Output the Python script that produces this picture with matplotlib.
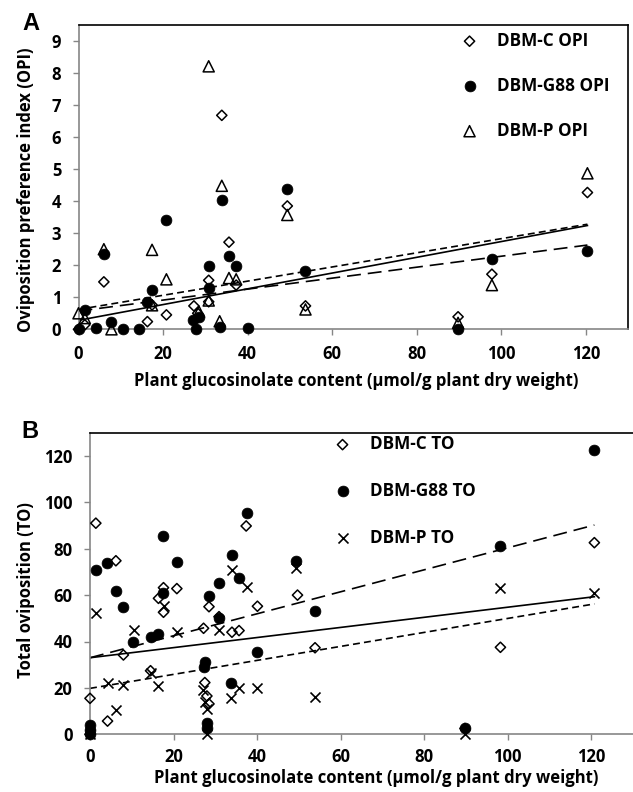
import matplotlib
matplotlib.use("Agg")
import matplotlib.pyplot as plt

# ---------------- data ----------------
# Panel A: oviposition preference index (OPI)
a_c_x = [0, 1.5, 6.0, 16.3, 17.4, 20.8, 27.3, 28.2, 30.8, 30.8, 33.9, 35.6, 37.3, 49.4, 53.7, 89.8, 97.8, 120.4]
a_c_y = [0, 0.14, 1.48, 0.24, 0.76, 0.45, 0.73, 0.5, 1.53, 0.86, 6.68, 2.72, 1.38, 3.85, 0.73, 0.39, 1.72, 4.27]

a_g_x = [0, 1.5, 4.2, 6.0, 7.7, 10.5, 14.4, 16.3, 17.5, 20.8, 27.1, 27.8, 28.5, 30.8, 30.8,
         33.4, 33.9, 35.6, 37.3, 40.1, 49.4, 53.7, 89.8, 97.8, 120.4]
a_g_y = [0, 0.60, 0.03, 2.34, 0.24, 0.02, 0.02, 0.86, 1.23, 3.42, 0.29, 0.0, 0.39, 1.99, 1.30,
         0.06, 4.04, 2.30, 1.99, 0.04, 4.38, 1.83, 0.02, 2.19, 2.46]

a_p_x = [0, 1.5, 6.0, 7.8, 17.4, 17.4, 20.8, 28.5, 30.8, 30.8, 33.4, 33.9, 35.6, 37.3, 49.4, 53.7, 89.8, 97.8, 120.4]
a_p_y = [0.5, 0.35, 2.5, 0.0, 2.48, 0.75, 1.56, 0.55, 8.21, 0.9, 0.25, 4.48, 1.6, 1.56, 3.57, 0.62, 0.2, 1.38, 4.87]

a_trend_x = [0, 120.4]
a_trend_c = [0.28, 3.24]
a_trend_g = [0.57, 2.63]
a_trend_p = [0.62, 3.28]

a_labels = ["DBM-C OPI", "DBM-G88 OPI", "DBM-P OPI"]

# Panel B: total oviposition (TO)
b_c_x = [0, 0, 1.4, 4.2, 6.2, 8.0, 14.5, 16.4, 17.6, 17.6, 20.8, 27.2, 27.5, 28.0, 28.5, 28.5,
         30.9, 34.0, 35.7, 37.4, 40.1, 49.7, 53.9, 89.8, 98.3, 120.8]
b_c_y = [0, 15.5, 91.0, 5.7, 74.8, 34.2, 27.4, 58.6, 63.2, 52.6, 62.8, 45.7, 22.3, 16.5, 13.1, 55.0,
         50.7, 44.0, 44.7, 89.8, 55.2, 60.0, 37.3, 2.5, 37.5, 82.6]

b_g_x = [0, 0, 0, 1.4, 4.0, 6.2, 7.8, 10.4, 14.5, 16.4, 17.6, 17.6, 20.8, 27.2, 27.6, 28.0, 28.0,
         28.5, 30.8, 30.9, 33.8, 34.0, 35.6, 37.6, 40.0, 49.4, 53.9, 89.9, 98.1, 120.8]
b_g_y = [0, 1.7, 3.9, 70.8, 74.0, 61.9, 54.7, 39.8, 41.8, 43.1, 85.5, 61.0, 74.3, 28.9, 31.3, 4.7, 2.6,
         59.8, 65.4, 50.3, 22.0, 77.3, 67.2, 95.3, 35.3, 74.6, 53.1, 2.6, 81.3, 122.5]

b_p_x = [0, 1.4, 4.2, 6.2, 8.0, 10.5, 14.5, 16.4, 17.7, 20.8, 27.0, 27.6, 28.0, 28.0, 30.9,
         33.8, 34.0, 35.8, 37.6, 40.1, 49.4, 53.9, 89.9, 98.3, 120.8]
b_p_y = [0, 52.2, 22.3, 10.3, 21.3, 45.0, 26.6, 21.0, 55.3, 44.0, 19.0, 14.1, 10.8, 0, 45.0,
         15.8, 70.8, 19.8, 63.4, 19.8, 71.5, 16.2, 0, 62.9, 60.8]

b_trend_x = [0, 120.8]
b_trend_c = [33.0, 59.3]
b_trend_g = [33.0, 90.2]
b_trend_p = [19.8, 56.2]

b_labels = ["DBM-C TO", "DBM-G88 TO", "DBM-P TO"]

a_yticks = [0, 1, 2, 3, 4, 5, 6, 7, 8, 9]
b_yticks = [0, 20, 40, 60, 80, 100, 120]
x_ticks = [0, 20, 40, 60, 80, 100, 120]

xlabel = "Plant glucosinolate content (\u00b5mol/g plant dry weight)"
a_ylabel = "Oviposition preference index (OPI)"
b_ylabel = "Total oviposition (TO)"

# ---------------- style ----------------
plt.rcParams["font.family"] = ["Open Sans", "DejaVu Sans"]
plt.rcParams["font.weight"] = "bold"
plt.rcParams["lines.scale_dashes"] = False

W, H = 633, 792
fig = plt.figure(figsize=(W / 100, H / 100), dpi=100)

GRAY = "#868686"
FS = 12
LFS = 12.3


def px_axes(l, r, t, b):
    return fig.add_axes([l / W, 1 - b / H, (r - l) / W, (b - t) / H])


def style_axes(ax, yticks, xpad, right_visible=True):
    for side in ("left", "bottom"):
        ax.spines[side].set_color(GRAY)
        ax.spines[side].set_linewidth(1.2)
    for side in ("top", "right"):
        ax.spines[side].set_color("black")
        ax.spines[side].set_linewidth(1.2)
    ax.spines["right"].set_visible(right_visible)
    ax.set_xticks(x_ticks)
    ax.set_yticks(yticks)
    ax.tick_params(axis="both", direction="out", length=4.5, width=1, color=GRAY,
                   labelsize=FS)
    ax.tick_params(axis="y", pad=8)
    ax.tick_params(axis="x", pad=xpad)
    for lab in ax.get_xticklabels() + ax.get_yticklabels():
        lab.set_fontweight("bold")


def draw(ax, cx, cy, gx, gy, px_, py_, pmarker, tx, tc, tg, tp):
    h1 = ax.scatter(cx, cy, marker="D", s=5.2 ** 2, facecolors="none", edgecolors="black",
                    linewidths=1.1, clip_on=False, zorder=3)
    h2 = ax.scatter(gx, gy, marker="o", s=7.8 ** 2, facecolors="black", edgecolors="black",
                    linewidths=0.5, clip_on=False, zorder=4)
    if pmarker == "^":
        h3 = ax.scatter(px_, py_, marker="^", s=8.0 ** 2, facecolors="none", edgecolors="black",
                        linewidths=1.1, clip_on=False, zorder=5)
    else:
        h3 = ax.scatter(px_, py_, marker="x", s=7.2 ** 2, color="black",
                        linewidths=1.2, clip_on=False, zorder=5)
    ax.plot(tx, tc, color="black", lw=1.2, zorder=2)
    l2, = ax.plot(tx, tg, color="black", lw=1.2, zorder=2)
    l2.set_dashes((10, 5))
    l3, = ax.plot(tx, tp, color="black", lw=1.2, zorder=2)
    l3.set_dashes((5, 3))
    return [h1, h2, h3]


# ---------------- Panel A ----------------
axA = px_axes(78.5, 628, 25, 329.3)
axA.set_xlim(0, 130)
axA.set_ylim(0, 9.5)
style_axes(axA, a_yticks, xpad=7)
hA = draw(axA, a_c_x, a_c_y, a_g_x, a_g_y, a_p_x, a_p_y, "^",
          a_trend_x, a_trend_c, a_trend_g, a_trend_p)
axA.legend(hA, a_labels, loc="upper left", bbox_to_anchor=((461 - 78.5) / 549.5, 0.978),
           frameon=False, prop={"weight": "bold", "size": LFS},
           handlelength=1.0, handletextpad=1.1, labelspacing=1.58,
           borderpad=0, borderaxespad=0, scatterpoints=1)

# ---------------- Panel B ----------------
axB = px_axes(90, 662, 432.7, 734.3)
axB.set_xlim(0, 137)
axB.set_ylim(0, 130)
style_axes(axB, b_yticks, xpad=5.5, right_visible=False)
hB = draw(axB, b_c_x, b_c_y, b_g_x, b_g_y, b_p_x, b_p_y, "x",
          b_trend_x, b_trend_c, b_trend_g, b_trend_p)
axB.legend(hB, b_labels, loc="upper left", bbox_to_anchor=((334 - 90) / 572, 0.992),
           frameon=False, prop={"weight": "bold", "size": LFS},
           handlelength=1.0, handletextpad=1.1, labelspacing=1.69,
           borderpad=0, borderaxespad=0, scatterpoints=1)

# ---------------- labels ----------------
fig.text(356 / W, 1 - 386.5 / H, xlabel, ha="center", va="baseline", fontsize=FS, fontweight="bold")
fig.text(376 / W, 1 - 783 / H, xlabel, ha="center", va="baseline", fontsize=FS, fontweight="bold")
fig.text(26 / W, 1 - 190 / H, a_ylabel, ha="center", va="center", rotation=90,
         fontsize=FS, fontweight="bold")
fig.text(26 / W, 1 - 590 / H, b_ylabel, ha="center", va="center", rotation=90,
         fontsize=FS, fontweight="bold")
fig.text(31 / W, 1 - 24 / H, "A", ha="center", va="center", fontsize=17, fontweight="bold",
         family=["Liberation Sans", "DejaVu Sans"])
fig.text(30 / W, 1 - 432 / H, "B", ha="center", va="center", fontsize=17, fontweight="bold",
         family=["Liberation Sans", "DejaVu Sans"])

fig.savefig("out.png", dpi=100)
